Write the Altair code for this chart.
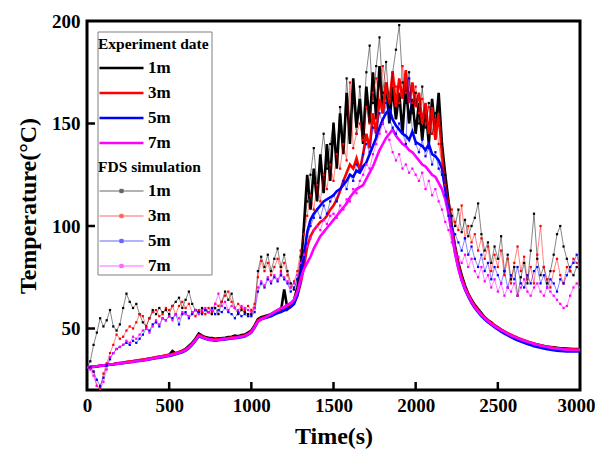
import altair as alt
import pandas as pd

FONT = "Liberation Serif"

# time grid (s)
t = list(range(0, 3001, 20))

series = ["1m", "3m", "5m", "7m"]
colors = ["#000000", "#ff0000", "#0000ff", "#ff00ff"]

# ---- Experiment data (thick lines) ----
E1 = [31.0,31.2,31.4,31.6,31.8,32.0,32.2,32.4,32.6,32.9,33.1,33.3,33.6,33.8,34.0,34.3,34.5,34.7,35.0,35.3,35.6,36.0,36.2,36.5,36.8,
      37.2,39.0,37.8,38.5,39.2,40.0,41.5,43.0,45.0,47.5,46.5,45.8,45.5,45.3,45.0,45.2,45.3,45.5,45.8,46.0,46.5,46.2,46.8,47.0,48.0,
      49.0,51.5,54.5,55.5,56.0,56.5,57.0,58.0,59.0,58.5,69.0,59.5,61.0,64.0,70.0,78.0,100.0,125.0,108.0,128.0,112.0,135.0,116.0,140.0,122.0,
      150,128,155,135,165,140,172,148,162,140,168,150,175,152,178,155,170,150,168,152,165,145,170,150,162,
      145,160,142,158,140,162,145,165,140,125,112,100,90,82,76,71,67,64,61.5,59.5,57.5,55.5,54,53,51.5,
      50.5,49.5,48.5,47.5,46.8,46,45.3,44.6,44.0,43.5,43.0,42.6,42.2,41.8,41.5,41.2,41.0,40.8,40.6,40.4,40.3,40.2,40.1,40.0,40.0,
      39.8]
E3 = [31.0,31.2,31.4,31.6,31.8,32.0,32.2,32.5,32.7,33.0,33.2,33.4,33.7,33.9,34.1,34.4,34.6,34.8,35.1,35.4,35.7,36.0,36.3,36.6,36.9,
      37.2,37.6,38.0,38.5,39.0,39.8,41.0,42.5,44.5,46.8,46.2,45.5,45.0,44.8,44.6,44.8,45.0,45.2,45.4,45.6,45.8,46.0,46.3,46.6,47.5,
      48.5,51.0,54.0,55.0,55.5,56.0,56.5,57.0,58.0,58.5,59.5,60.5,61.5,63.0,66.0,72.0,80.0,90.0,95.0,98.0,100.0,102.0,103.0,105.0,108.0,
      110,113,117,122,126,130,128,133,127,135,145,138,155,145,162,155,170,160,175,158,172,162,176,160,170,
      158,165,150,160,145,158,142,155,135,120,110,99,89,81,75,70,66.5,63.5,61,59,57,55.5,54,52.8,51.5,
      50.5,49.5,48.6,47.7,47.0,46.2,45.5,44.9,44.3,43.7,43.2,42.7,42.2,41.8,41.4,41.1,40.8,40.6,40.4,40.2,40.1,40.0,39.9,39.8,39.7,
      39.6]
E5 = [31.0,31.2,31.3,31.5,31.7,31.9,32.1,32.3,32.5,32.7,32.9,33.1,33.3,33.5,33.7,34.0,34.2,34.4,34.6,34.9,35.2,35.5,35.7,36.0,36.3,
      36.6,37.0,37.4,37.9,38.4,39.2,40.4,42.0,44.0,46.2,45.6,45.0,44.5,44.3,44.1,44.3,44.5,44.7,44.9,45.1,45.3,45.5,45.8,46.1,47.0,
      48.0,50.5,53.5,54.5,55.0,55.5,56.0,56.8,57.5,58.0,58.8,59.5,60.5,62.0,66.0,74.0,85.0,97.0,103.0,106.0,108.0,110.0,112.0,113.0,114.0,
      115,117,118,120,122,125,124,127,126,129,131,135,139,143,148,152,155,157,152,149,147,145,144,142,146,
      141,140,139,137,140,135,134,132,128,118,108,97,87,79.5,73.5,69,65.5,62.5,60,58,56,54.5,53,51.8,50.6,
      49.5,48.5,47.5,46.6,45.8,45.0,44.3,43.6,43.0,42.4,41.9,41.4,41.0,40.6,40.2,39.9,39.6,39.4,39.2,39.0,38.9,38.8,38.8,38.8,38.8,
      38.9]
E7 = [31.0,31.2,31.4,31.6,31.8,32.0,32.2,32.4,32.6,32.8,33.0,33.2,33.4,33.6,33.8,34.1,34.3,34.5,34.8,35.1,35.4,35.7,36.0,36.3,36.6,
      36.9,37.3,37.7,38.2,38.7,39.5,40.7,42.3,44.3,46.5,45.8,45.2,44.7,44.5,44.3,44.5,44.7,44.9,45.1,45.3,45.5,45.7,46.0,46.3,47.2,
      48.2,50.8,53.5,54.5,55.2,56.0,57.0,58.0,59.0,60.0,60.5,61.5,62.5,64.0,68.0,74.0,79.0,82.0,85.0,89.0,92.0,95.0,97.0,99.0,101.0,
      103,105,107,109,111,114,116,118,119,120,123,126,129,133,137,140,143,145,147,144,142,140,139,137,136,
      134,132,130,129,127,125,124,121,118,113,106,96,86.5,79,73.5,69.5,66,63,60.5,58.5,56.5,55,53.5,52.3,51.2,
      50.2,49.2,48.3,47.4,46.6,45.9,45.2,44.6,44.0,43.5,43.0,42.5,42.1,41.7,41.3,41.0,40.7,40.4,40.2,40.0,39.8,39.7,39.6,39.5,39.5,
      39.6]

# ---- FDS simulation (thin lines with markers) ----
F1 = [31,34,42,48,55,51,54,59,51,49,52,60,67,63,60,62,57,53,51,55,59,57,60,58,59,
      57,61,63,65,60,64,68,62,59,58,60,59,58,57,60,57,63,68,64,67,60,57,59,58,57,
      57,60,78,85,80,86,78,84,89,80,86,78,72,69,74,85,98,112,125,138,120,132,145,128,140,
      150,135,158,140,172,150,160,145,168,150,175,188,160,178,192,165,180,158,175,186,198,170,160,175,155,
      165,150,168,148,160,145,155,162,140,125,112,105,100,108,97,103,95,100,104,111,96,88,92,82,90,
      84,95,78,86,74,80,66,75,82,72,88,106,84,76,80,72,78,86,96,100,90,84,78,76,80,
      79]
F3 = [31,31,29,22,21,28,33,38,42,47,45,46,49,51,50,53,57,56,51,55,58,59,56,57,60,
      59,61,57,61,63,60,62,58,56,59,58,57,60,58,62,61,63,66,68,63,60,62,60,59,61,
      59,62,75,83,78,82,76,80,84,78,82,76,70,73,78,88,96,105,115,108,120,112,125,118,130,
      122,135,128,140,132,170,138,145,150,142,158,150,165,172,160,178,168,162,175,168,160,178,165,172,160,
      168,155,162,150,158,145,152,140,130,120,112,108,102,98,110,94,100,92,96,88,94,84,90,78,86,
      80,88,76,84,72,82,90,78,85,74,80,72,86,100,80,74,70,78,84,76,72,80,78,84,82,
      80]
F5 = [31,31,29,25,22,26,32,35,38,40,41,42,43,42,44,43,45,47,50,49,52,53,51,55,54,
      56,55,57,52,57,58,55,57,59,58,57,59,58,60,57,59,58,60,58,57,55,58,56,57,56,
      56,58,68,72,70,74,72,75,73,76,74,72,68,70,74,80,88,95,100,104,108,104,110,106,112,
      115,112,118,122,118,125,122,130,127,135,140,136,148,144,155,150,160,152,148,145,150,146,140,172,145,
      140,136,142,134,138,130,136,128,125,115,105,100,96,92,88,94,86,90,84,80,86,78,82,74,80,
      76,72,78,70,76,74,80,72,70,76,72,78,80,72,76,70,74,72,68,74,72,76,80,82,86,
      80]
F7 = [31,30,27,22,20,24,30,36,38,40,41,42,44,43,46,45,47,49,50,48,51,54,52,55,54,
      56,54,57,55,58,57,56,58,59,57,59,60,58,59,62,67,61,63,59,61,60,59,61,60,59,
      58,60,70,73,71,75,73,76,74,77,75,73,70,72,76,82,86,90,94,98,100,98,103,101,105,
      106,104,110,108,113,112,118,116,122,125,130,128,135,140,145,150,146,142,136,132,135,128,130,126,128,
      125,122,126,118,122,115,118,112,108,102,98,92,88,85,82,86,80,84,78,75,80,73,76,70,74,
      68,72,66,70,68,72,66,70,74,68,66,70,72,68,66,70,68,66,64,62,60,61,66,70,72,
      70]

x_ticks = [0, 500, 1000, 1500, 2000, 2500, 3000]
y_ticks = [50, 100, 150, 200]


def long(arrs):
    rows = []
    for name, vals in zip(series, arrs):
        for ti, v in zip(t, vals):
            rows.append({"t": ti, "T": v, "s": name})
    return pd.DataFrame(rows)


df_e = long([E1, E3, E5, E7])
df_f = long([F1, F3, F5, F7])

X = alt.X("t:Q", scale=alt.Scale(domain=[0, 3000], nice=False),
          axis=alt.Axis(values=x_ticks, title="Time(s)", format="d", grid=False,
                        domain=False, ticks=False, labelFont=FONT, labelFontSize=19,
                        labelFontWeight="bold", labelColor="black", labelPadding=6,
                        labelOffset={"condition": {"test": "datum.value == 3000", "value": -4},
                                     "value": 0},
                        titleFont=FONT, titleFontSize=24, titleFontWeight="bold",
                        titleColor="black", titlePadding=9, labelFlush=False))
Y = alt.Y("T:Q", scale=alt.Scale(domain=[20, 200], nice=False, zero=False),
          axis=alt.Axis(values=y_ticks, title="Temperature(°C)", grid=False,
                        domain=False, ticks=False, labelFont=FONT, labelFontSize=19,
                        labelFontWeight="bold", labelColor="black", labelPadding=7,
                        titleFont=FONT, titleFontSize=24, titleFontWeight="bold",
                        titleColor="black", titlePadding=11, labelFlush=False))

common_legend = dict(orient="none", padding=0, titleFont=FONT, titleFontSize=15.5,
                     titleFontWeight="bold", titleColor="black", labelFont=FONT,
                     labelFontSize=17, labelFontWeight="bold", labelColor="black",
                     symbolSize=121, rowPadding=7, titlePadding=7, symbolOffset=15,
                     labelOffset=18, legendX=11)

exp = alt.Chart(df_e).mark_line(strokeWidth=2.6, clip=True).encode(
    x=X, y=Y,
    color=alt.Color("s:N", scale=alt.Scale(domain=series, range=colors),
                    legend=alt.Legend(title="Experiment date", legendY=16,
                                      symbolType="M-4,0H4", symbolStrokeWidth=2.5,
                                      **common_legend)),
)

fds = alt.Chart(df_f).mark_line(
    strokeWidth=0.8, opacity=0.6, clip=True,
    point=alt.OverlayMarkDef(shape="square", size=5, filled=True, opacity=1, clip=True),
).encode(
    x=X, y=Y,
    color=alt.Color("s:N", scale=alt.Scale(domain=series, range=colors),
                    legend=alt.Legend(title="FDS simulation", legendY=139,
                                      symbolType="M-4,0H4M-0.3,-0.3H0.3V0.3H-0.3Z",
                                      symbolStrokeWidth=1,
                                      **common_legend)),
)

box = alt.Chart(pd.DataFrame({"k": [0]})).mark_rect(
    fill="white", stroke="#808080", strokeWidth=1).encode(
    x=alt.value(11), x2=alt.value(125), y=alt.value(11), y2=alt.value(254))

xt = alt.Chart(pd.DataFrame({"t": x_ticks[1:-1]})).mark_rule(
    color="black", strokeWidth=2.5).encode(x=X, y=alt.value(369), y2=alt.value(361))
yt = alt.Chart(pd.DataFrame({"T": y_ticks[:-1]})).mark_rule(
    color="black", strokeWidth=2.5).encode(y=Y, x=alt.value(0), x2=alt.value(8))

chart = alt.layer(exp, fds, box, xt, yt).resolve_scale(color="independent").properties(
    width=493, height=369, autosize="none",
    padding={"left": 79, "top": 13, "right": 15, "bottom": 60},
    background="white",
).configure_view(stroke="black", strokeWidth=3).configure_axis(
    labelFont=FONT, titleFont=FONT)

chart.save("out.html", embed_options={"renderer": "svg", "actions": False})
